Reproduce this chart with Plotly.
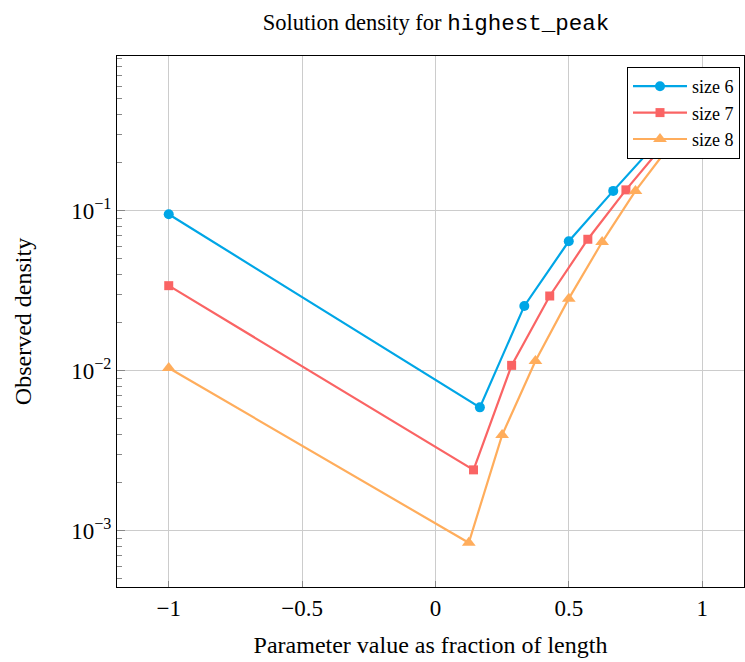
import plotly.graph_objects as go

# Data
x6 = [-1, 1/6, 2/6, 3/6, 4/6, 5/6, 1]
y6 = [0.095, 0.0059, 0.0254, 0.0644, 0.133, 0.27, 0.50]
x7 = [-1, 1/7, 2/7, 3/7, 4/7, 5/7, 6/7, 1]
y7 = [0.034, 0.0024, 0.0108, 0.0293, 0.0663, 0.135, 0.26, 0.48]
x8 = [-1, 1/8, 2/8, 3/8, 4/8, 5/8, 6/8, 7/8, 1]
y8 = [0.0104, 0.00084, 0.00396, 0.0115, 0.0282, 0.0637, 0.133, 0.25, 0.46]
names = ["size 6", "size 7", "size 8"]
colors = ["#00a6e6", "#fa6464", "#ffad5c"]
symbols = ["circle", "square", "triangle-up"]
msizes = [10, 9, 12]

xticks = [-1, -0.5, 0, 0.5, 1]
xticktext = ["\u22121", "\u22120.5", "0", "0.5", "1"]
yticks = [1e-3, 1e-2, 1e-1]
yticktext = ["10<sup>\u22123</sup>", "10<sup>\u22122</sup>", "10<sup>\u22121</sup>"]

serif = "Liberation Serif, DejaVu Serif, serif"

fig = go.Figure()
for i, (xs, ys, n, c, s, ms) in enumerate(zip([x6, x7, x8], [y6, y7, y8], names, colors, symbols, msizes)):
    fig.add_trace(go.Scatter(
        x=xs, y=ys, name=n, mode="lines+markers", legendgroup=f"g{i}",
        line=dict(color=c, width=2.2),
        marker=dict(color=c, symbol=s, size=ms),
    ))

fig.update_layout(
    width=745, height=662,
    margin=dict(l=117, r=1, t=56, b=75),
    paper_bgcolor="white", plot_bgcolor="white",
    font=dict(family=serif, color="black", size=23),
    title=dict(
        text='Solution density for <span style="font-family:Liberation Mono, DejaVu Sans Mono, monospace">highest_peak</span>',
        x=436 / 745, xanchor="center", y=1 - 22 / 662, yanchor="middle",
        font=dict(size=22.5, family=serif),
    ),
    showlegend=True,
    legend=dict(
        x=(740 - 117) / 627, y=(587 - 67) / 531, xanchor="right", yanchor="top",
        bgcolor="white", bordercolor="black", borderwidth=1,
        font=dict(size=18, family=serif),
        tracegroupgap=0, itemwidth=54,
    ),
)

fig.update_xaxes(
    range=[-1.194, 1.157],
    automargin=False,
    tickvals=xticks, ticktext=xticktext,
    showgrid=True, gridcolor="#cccccc", gridwidth=1,
    zeroline=False,
    showline=True, linecolor="black", linewidth=1, mirror=True,
    ticks="inside", ticklen=6, tickcolor="#888888",
    title=dict(text="Parameter value as fraction of length", font=dict(size=24), standoff=16),
    tickfont=dict(size=23),
)
fig.update_yaxes(
    type="log",
    range=[-3.352, -0.033],
    automargin=False,
    tickvals=yticks, ticktext=yticktext,
    showgrid=True, gridcolor="#cccccc", gridwidth=1,
    zeroline=False,
    showline=True, linecolor="black", linewidth=1, mirror=True,
    ticks="inside", ticklen=8, tickcolor="#888888",
    minor=dict(ticks="inside", ticklen=5, tickcolor="#888888", dtick="D1", showgrid=False),
    title=dict(text="Observed density", font=dict(size=24), standoff=32),
    tickfont=dict(size=23),
)

fig.write_html(
    "out.html",
    config={"displayModeBar": False},
    post_script="document.body.style.margin='0px';document.body.style.overflow='hidden';",
)
